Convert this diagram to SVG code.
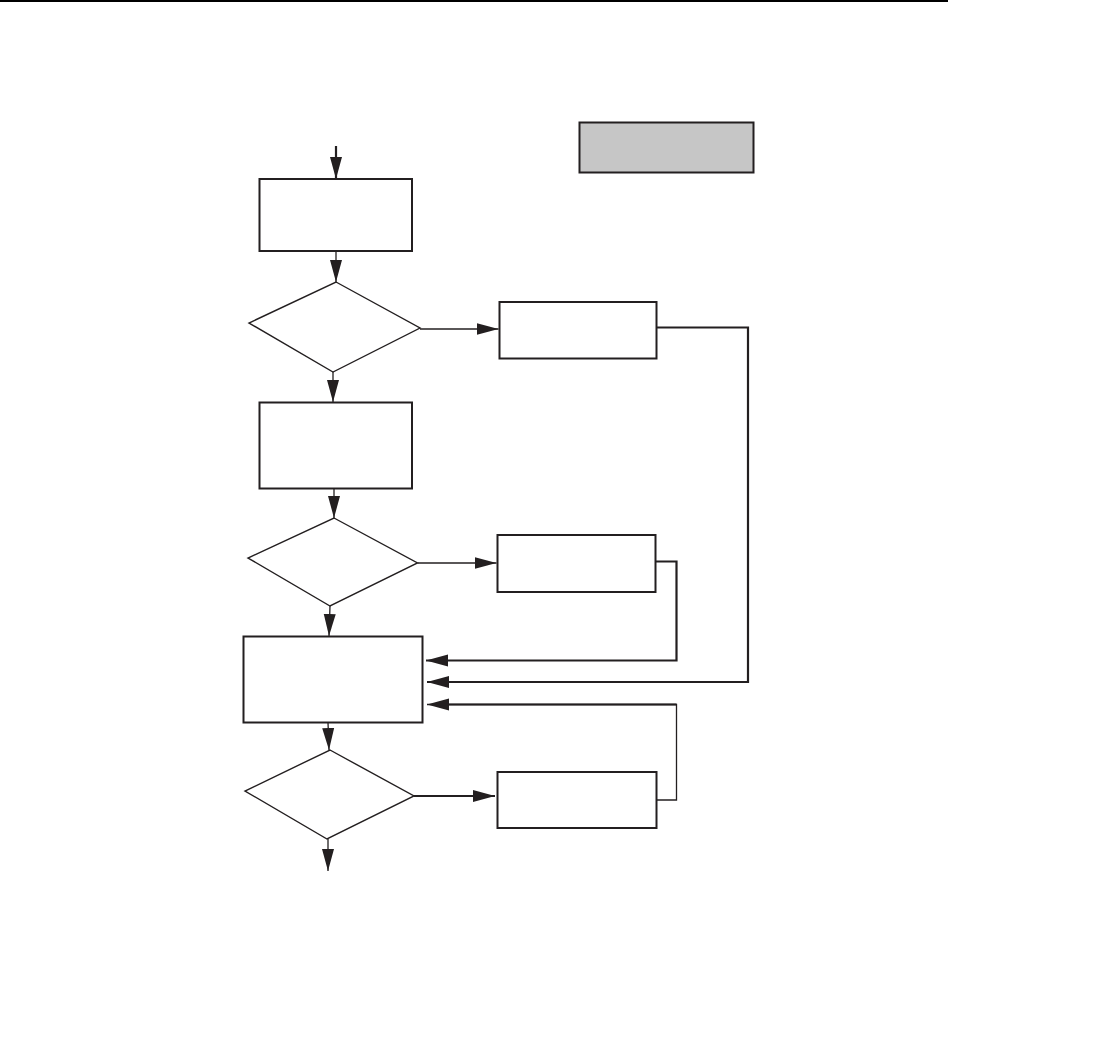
<svg xmlns="http://www.w3.org/2000/svg" width="1093" height="1041" viewBox="0 0 1093 1041">
<style>
.box{fill:#fff;stroke:#231f20;stroke-width:2}
.dia{fill:#fff;stroke:#231f20;stroke-width:1.4}
.gray{fill:#c6c6c6;stroke:#231f20;stroke-width:2}
.c{fill:none;stroke:#231f20;stroke-width:1.3}
.ct{fill:none;stroke:#231f20;stroke-width:2.2}
</style>
<defs>
<marker id="ah" markerUnits="userSpaceOnUse" markerWidth="23" markerHeight="13" refX="22" refY="6" orient="auto" viewBox="0 0 23 12">
<path d="M0,0 L22,6 L0,12 z" fill="#231f20"/>
</marker>
</defs>
<rect x="0" y="0" width="1093" height="1041" fill="#fff"/>
<line x1="0" y1="1" x2="948" y2="1" stroke="#000" stroke-width="2"/>
<g id="legend"><rect class="gray" x="579.5" y="122.5" width="174" height="50"/></g>
<g id="n1"><rect class="box" x="259.5" y="179" width="152.5" height="72"/></g>
<g id="d1"><polygon class="dia" points="336,282 420,328 333,372 249,323"/></g>
<g id="n2"><rect class="box" x="499.5" y="302" width="157" height="56.5"/></g>
<g id="n3"><rect class="box" x="259.5" y="402.5" width="152.5" height="86"/></g>
<g id="d2"><polygon class="dia" points="334,518 417.5,563 330,606 248,558"/></g>
<g id="n4"><rect class="box" x="497.5" y="535" width="158" height="57"/></g>
<g id="n5"><rect class="box" x="243.5" y="636.5" width="179" height="86"/></g>
<g id="d3"><polygon class="dia" points="330,750 414,796 327,839 245,791"/></g>
<g id="n6"><rect class="box" x="497.5" y="772" width="159" height="56"/></g>
<g id="connectors">
<line class="ct" x1="336" y1="146" x2="336" y2="179" marker-end="url(#ah)"/>
<line class="c" x1="336" y1="251" x2="336" y2="282" marker-end="url(#ah)"/>
<line class="c" x1="420" y1="329" x2="498.5" y2="329" marker-end="url(#ah)"/>
<line class="c" x1="333" y1="372" x2="333" y2="402" marker-end="url(#ah)"/>
<line class="c" x1="334" y1="488.5" x2="334" y2="518" marker-end="url(#ah)"/>
<line class="c" x1="417.5" y1="563" x2="496.5" y2="563" marker-end="url(#ah)"/>
<line class="c" x1="330" y1="606" x2="329" y2="636" marker-end="url(#ah)"/>
<line class="c" x1="328" y1="722.5" x2="329" y2="750" marker-end="url(#ah)"/>
<line class="ct" x1="414" y1="796" x2="495" y2="796" marker-end="url(#ah)"/>
<line class="c" x1="328" y1="839" x2="328" y2="871" marker-end="url(#ah)"/>
<polyline class="ct" points="656.5,327.5 748,327.5 748,682 427,682" marker-end="url(#ah)"/>
<polyline class="ct" points="655.5,561.5 676.5,561.5 676.5,660.5 426,660.5" marker-end="url(#ah)"/>
<polyline class="c" points="656.5,800 676.5,800 676.5,704.5 427,704.5" marker-end="url(#ah)"/>
<line class="ct" x1="676.5" y1="704.5" x2="440" y2="704.5"/>
</g>
</svg>
